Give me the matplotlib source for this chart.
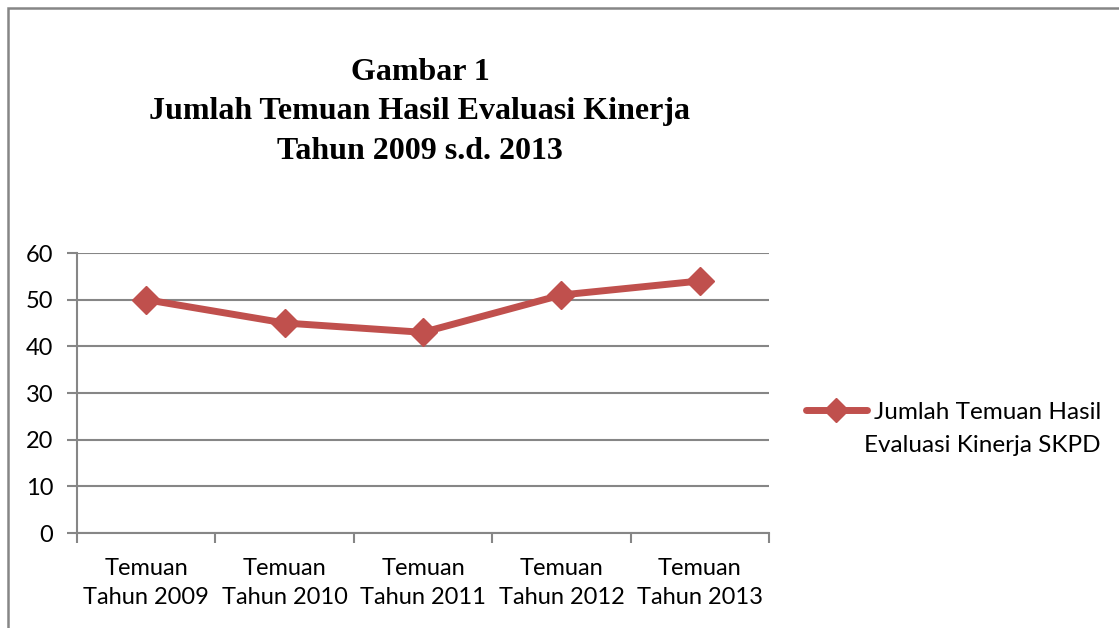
import matplotlib.pyplot as plt
from matplotlib.patches import Rectangle

categories = ['Temuan\nTahun 2009', 'Temuan\nTahun 2010', 'Temuan\nTahun 2011',
              'Temuan\nTahun 2012', 'Temuan\nTahun 2013']
values = [50, 45, 43, 51, 54]
series_label = ['Jumlah Temuan Hasil', 'Evaluasi Kinerja SKPD']
title_lines = ['Gambar 1', 'Jumlah Temuan Hasil Evaluasi Kinerja', 'Tahun 2009 s.d. 2013']

red = '#C0504D'
grey = '#868686'
sans = ['Lato', 'DejaVu Sans']

fig = plt.figure(figsize=(11.19, 6.28), dpi=100)
fig.patch.set_facecolor('white')

# outer chart frame (right and bottom edges run off the picture)
fig.patches.append(Rectangle((8 / 1119, -0.1), 1.2, 1 - 8 / 628 + 0.1,
                             transform=fig.transFigure, fill=False,
                             edgecolor=grey, linewidth=1.8))

ax = fig.add_axes([77 / 1119, 1 - 533 / 628, 692 / 1119, 280 / 628])
x = range(len(values))
line, = ax.plot(x, values, color=red, linewidth=5, marker='D', markersize=14,
                solid_capstyle='round', solid_joinstyle='round', label=series_label[0])

ax.set_xlim(-0.5, len(values) - 0.5)
ax.set_ylim(0, 60)
ax.set_yticks(range(0, 61, 10))
ax.set_xticks([i - 0.5 for i in range(len(values) + 1)], minor=False)
ax.set_xticklabels([])
ax.set_xticks(list(x), minor=True)
ax.set_xticklabels(categories, minor=True, fontsize=17, family=sans, linespacing=1.45)
ax.tick_params(axis='x', which='major', length=7, color=grey, width=1.5)
ax.tick_params(axis='x', which='minor', length=0, pad=18)
ax.tick_params(axis='y', length=7, color=grey, width=1.5, labelsize=17, pad=10)
for lab in ax.get_yticklabels():
    lab.set_family(sans)

ax.grid(axis='y', color=grey, linewidth=1.5)
ax.set_axisbelow(True)
for side in ['top', 'right']:
    ax.spines[side].set_visible(False)
for side in ['left', 'bottom']:
    ax.spines[side].set_color(grey)
    ax.spines[side].set_linewidth(1.5)

for i, t in enumerate(title_lines):
    fig.text(420 / 1119, 1 - (72 + 40 * i) / 628, t, ha='center', va='center',
             fontsize=23, fontweight='bold', family='Liberation Serif')

leg = fig.legend(handles=[line], loc='center left', bbox_to_anchor=(806 / 1119, 1 - 412 / 628),
                 frameon=False, prop={'family': sans, 'size': 17.5}, handlelength=2.5,
                 handletextpad=0.3, markerscale=0.85, borderpad=0, borderaxespad=0)
fig.text(1100 / 1119, 1 - 445 / 628, series_label[1], ha='right', va='center',
         fontsize=17.5, family=sans)

fig.savefig('out.png', dpi=100)
